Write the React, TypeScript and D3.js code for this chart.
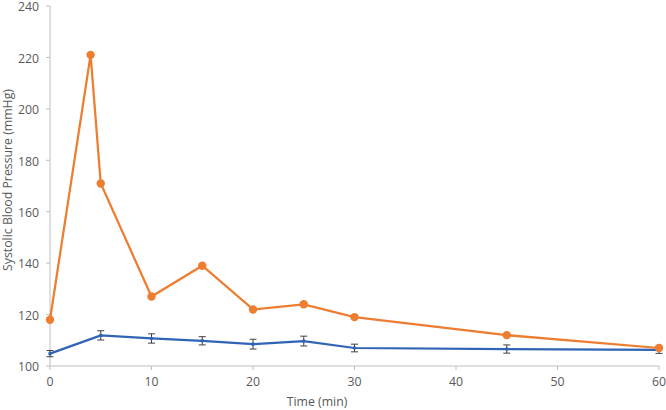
import React from "react";
import * as d3 from "d3";

const times = [0, 5, 10, 15, 20, 25, 30, 45, 60];
const controlValues = [104.8, 111.9, 110.7, 109.8, 108.5, 109.7, 107.0, 106.6, 106.3];
const controlErrors = [1.2, 1.8, 1.8, 1.6, 1.9, 1.9, 1.5, 1.6, 1.4];
const treatTimes = [0, 4, 5, 10, 15, 20, 25, 30, 45, 60];
const treatValues = [118, 221, 171, 127, 139, 122, 124, 119, 112, 107];
const xTicks = [0, 10, 20, 30, 40, 50, 60];
const yTicks = [100, 120, 140, 160, 180, 200, 220, 240];

const W = 666;
const H = 410;
const left = 50;
const right = 659;
const top = 6;
const bottom = 366;
const font = "'Open Sans', 'Liberation Sans', sans-serif";
const fs = 12.3;
const labelColor = "#595959";
const axisColor = "#BFBFBF";
const orange = "#ED7D31";
const blue = "#3064B5";

export default function App() {
  const x = d3.scaleLinear().domain([0, 60]).range([left, right]);
  const y = d3.scaleLinear().domain([100, 240]).range([bottom, top]);
  const treat = treatTimes.map((t, i) => [t, treatValues[i]] as [number, number]);
  const ctrl = times.map((t, i) => [t, controlValues[i]] as [number, number]);
  const line = d3
    .line<[number, number]>()
    .x((d) => x(d[0]))
    .y((d) => y(d[1]));

  return (
    <svg
      width={W}
      height={H}
      style={{ position: "absolute", left: 0, top: 0, background: "#fff" }}
    >
      {/* axes */}
      <line x1={left} x2={left} y1={top} y2={bottom} stroke={axisColor} strokeWidth={1} />
      <line x1={left} x2={right} y1={bottom} y2={bottom} stroke={axisColor} strokeWidth={1} />
      {yTicks.map((v) => (
        <g key={"y" + v}>
          <line x1={left - 4} x2={left} y1={y(v)} y2={y(v)} stroke={axisColor} />
          <text
            x={left - 11}
            y={y(v) + 1}
            dy="0.35em"
            textAnchor="end"
            fontFamily={font}
            fontSize={fs}
            fill={labelColor}
          >
            {v}
          </text>
        </g>
      ))}
      {xTicks.map((v) => (
        <g key={"x" + v}>
          <line x1={x(v)} x2={x(v)} y1={bottom} y2={bottom + 4} stroke={axisColor} />
          <text
            x={x(v)}
            y={bottom + 20}
            textAnchor="middle"
            fontFamily={font}
            fontSize={fs}
            fill={labelColor}
          >
            {v}
          </text>
        </g>
      ))}
      <text
        x={317}
        y={406}
        textAnchor="middle"
        fontFamily={font}
        fontSize={fs}
        fill={labelColor}
      >
        Time (min)
      </text>
      <text
        transform={`translate(12, 180) rotate(-90)`}
        textAnchor="middle"
        fontFamily={font}
        fontSize={fs}
        fill={labelColor}
      >
        Systolic Blood Pressure (mmHg)
      </text>

      {/* control series */}
      <path d={line(ctrl) || ""} fill="none" stroke={blue} strokeWidth={2.25} />
      {ctrl.map((d, i) => {
        const cx = x(d[0]);
        const y1 = y(d[1] + controlErrors[i]);
        const y2 = y(d[1] - controlErrors[i]);
        return (
          <g key={"e" + i} stroke="#404040" strokeWidth={1}>
            <line x1={cx} x2={cx} y1={y1} y2={y2} />
            <line x1={cx - 3.5} x2={cx + 3.5} y1={y1} y2={y1} />
            <line x1={cx - 3.5} x2={cx + 3.5} y1={y2} y2={y2} />
          </g>
        );
      })}
      {ctrl.map((d, i) => (
        <circle key={"c" + i} cx={x(d[0])} cy={y(d[1])} r={1.8} fill={blue} />
      ))}

      {/* treatment series */}
      <path d={line(treat) || ""} fill="none" stroke={orange} strokeWidth={2.25} />
      {treat.map((d, i) => (
        <circle key={"t" + i} cx={x(d[0])} cy={y(d[1])} r={4.2} fill={orange} />
      ))}
    </svg>
  );
}
